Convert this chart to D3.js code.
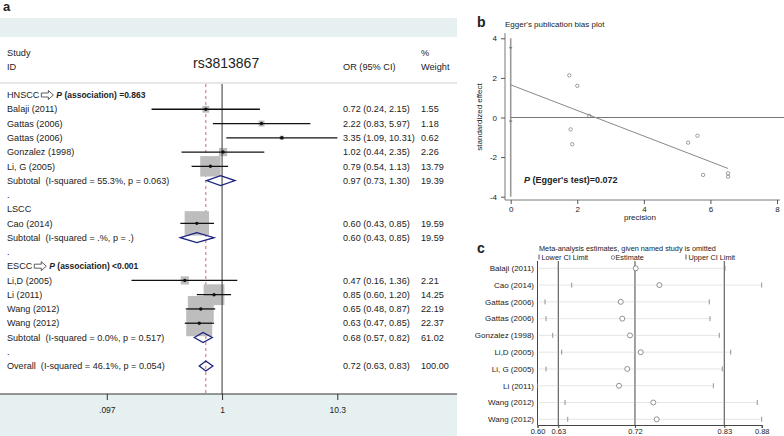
<!DOCTYPE html>
<html><head><meta charset="utf-8">
<script src="https://cdn.jsdelivr.net/npm/d3@7"></script>
<style>
body{margin:0;background:#fff;}
svg{display:block;}
text{font-family:"Liberation Sans Narrow","Arial Narrow","Liberation Sans",Arial,sans-serif;fill:#222;white-space:pre;}
.wide{font-family:"Liberation Sans",Arial,sans-serif;}
</style></head><body>
<svg id="chart" width="784" height="436"></svg>
<script>
// ---------- Panel a: forest plot data ----------
const forestLabels = ["HNSCC","Balaji (2011)","Gattas (2006)","Gattas (2006)","Gonzalez (1998)","Li, G (2005)",
  "Subtotal  (I-squared = 55.3%, p = 0.063)",".","LSCC","Cao (2014)","Subtotal  (I-squared = .%, p = .)",".",
  "ESCC","Li,D (2005)","Li (2011)","Wang (2012)","Wang (2012)","Subtotal  (I-squared = 0.0%, p = 0.517)",".",
  "Overall  (I-squared = 46.1%, p = 0.054)"];
const forestTypes = ["group","study","study","study","study","study","subtotal","gap","group","study","subtotal","gap",
  "group","study","study","study","study","subtotal","gap","overall"];
const forestOR    = [null,0.72,2.22,3.35,1.02,0.79,0.97,null,null,0.60,0.60,null,null,0.47,0.85,0.65,0.63,0.68,null,0.72];
const forestLow   = [null,0.24,0.83,1.09,0.44,0.54,0.73,null,null,0.43,0.43,null,null,0.16,0.60,0.48,0.47,0.57,null,0.63];
const forestHigh  = [null,2.15,5.97,10.31,2.35,1.13,1.30,null,null,0.85,0.85,null,null,1.36,1.20,0.87,0.85,0.82,null,0.83];
const forestWeight= [null,1.55,1.18,0.62,2.26,13.79,19.39,null,null,19.59,19.59,null,null,2.21,14.25,22.19,22.37,61.02,null,100.00];
const groupNotes  = {"HNSCC":"=0.863","ESCC":"<0.001"};
const forestTicks = [0.097, 1, 10.3];
const forestTickLabels = [".097","1","10.3"];
const overallOR = 0.72;

// ---------- Panel b: Egger's plot data ----------
const eggerPrecision = [1.76, 2.00, 2.36, 1.80, 1.85, 5.33, 5.61, 5.78, 6.53, 6.53];
const eggerEffect    = [2.13, 1.60, 0.08, -0.60, -1.35, -1.27, -0.92, -2.90, -2.82, -2.99];
const eggerIntercept = 1.65, eggerSlope = -0.647;
const eggerInterceptCI = [-0.18, 3.52];
const eggerXTicks = [0,2,4,6,8];
const eggerYTicks = [-4,-2,0,2,4];

// ---------- Panel c: leave-one-out data ----------
const infStudies = ["Balaji (2011)","Cao (2014)","Gattas (2006)","Gattas (2006)","Gonzalez (1998)","Li,D (2005)",
  "Li, G (2005)","Li (2011)","Wang (2012)","Wang (2012)"];
const infEstimate = [0.7234,0.7519,0.7053,0.7072,0.7165,0.7294,0.7132,0.7032,0.7446,0.7487];
const infLower    = [0.6299,0.6461,0.6139,0.6151,0.6232,0.6340,0.6151,0.6048,0.6380,0.6413];
const infUpper    = [0.8312,0.8755,0.8122,0.8131,0.8243,0.8381,0.8279,0.8171,0.8702,0.8755];
const infTickValues = [0.6048,0.6299,0.7225,0.8303,0.8755];
const infTickLabels = ["0.60","0.63","0.72","0.83","0.88"];
const infRefLines = [0.6299,0.7225,0.8303];

const svg = d3.select("#chart");
const f2 = d3.format(".2f");

// ================= Panel a =================
const A = svg.append("g");
const bandColor = "#e7f0f0";
A.append("rect").attr("x",0).attr("y",18).attr("width",457).attr("height",19).attr("fill",bandColor);
A.append("rect").attr("x",0).attr("y",394).attr("width",457).attr("height",42).attr("fill",bandColor);
A.append("text").attr("class","wide").attr("x",3).attr("y",11).attr("font-size",13).attr("font-weight","bold").text("a");

A.append("line").attr("x1",0).attr("x2",457).attr("y1",83).attr("y2",83).attr("stroke","#cfcfcf").attr("stroke-width",1);
A.append("line").attr("x1",0).attr("x2",457).attr("y1",394).attr("y2",394).attr("stroke","#333").attr("stroke-width",1);

const hf = 9.2;
A.append("text").attr("x",7).attr("y",56).attr("font-size",hf).text("Study");
A.append("text").attr("x",7).attr("y",70).attr("font-size",hf).text("ID");
A.append("text").attr("class","wide").attr("x",193).attr("y",68).attr("font-size",14).text("rs3813867");
A.append("text").attr("x",343).attr("y",70).attr("font-size",hf).text("OR (95% CI)");
A.append("text").attr("x",421).attr("y",56).attr("font-size",hf).text("%");
A.append("text").attr("x",421).attr("y",70).attr("font-size",hf).text("Weight");

const xF = d3.scaleLog().domain([0.097,10.3]).range([106.8,337.3]);
const yF = d3.scaleLinear().domain([0,19]).range([95,366]);
const boxSize = d3.scaleSqrt().domain([0,25]).range([0,27.5]);

// red dashed overall line
A.append("line").attr("x1",xF(overallOR)).attr("x2",xF(overallOR)).attr("y1",84).attr("y2",394)
  .attr("stroke","#c86a6a").attr("stroke-width",1).attr("stroke-dasharray","3,3");

const rows = forestLabels.map((l,i)=>({label:l,type:forestTypes[i],or:forestOR[i],lo:forestLow[i],hi:forestHigh[i],w:forestWeight[i],i}));
const studies = rows.filter(r=>r.type==="study");

// boxes
A.selectAll(".box").data(studies).join("rect")
  .attr("x",d=>xF(d.or)-boxSize(d.w)/2).attr("y",d=>yF(d.i)-boxSize(d.w)/2)
  .attr("width",d=>boxSize(d.w)).attr("height",d=>boxSize(d.w)).attr("fill","#bdbdbd");

// null line
A.append("line").attr("x1",xF(1)).attr("x2",xF(1)).attr("y1",84).attr("y2",394).attr("stroke","#333").attr("stroke-width",1);

// CIs
A.selectAll(".ci").data(studies).join("line")
  .attr("x1",d=>xF(d.lo)).attr("x2",d=>xF(d.hi)).attr("y1",d=>yF(d.i)).attr("y2",d=>yF(d.i))
  .attr("stroke","#111").attr("stroke-width",1.3);
A.selectAll(".pt").data(studies).join("circle")
  .attr("cx",d=>xF(d.or)).attr("cy",d=>yF(d.i)).attr("r",1.7).attr("fill","#111");

// diamonds
const dia = rows.filter(r=>r.type==="subtotal"||r.type==="overall");
A.selectAll(".dia").data(dia).join("path")
  .attr("d",d=>{const y=yF(d.i),h=5;return `M${xF(d.lo)},${y}L${xF(d.or)},${y-h}L${xF(d.hi)},${y}L${xF(d.or)},${y+h}Z`;})
  .attr("fill","none").attr("stroke","#1a237e").attr("stroke-width",1.3);

// row texts
const tf = 9.1;
rows.forEach(r=>{
  const y = yF(r.i);
  const t = A.append("text").attr("x",7).attr("y",y).attr("dy","0.35em").attr("font-size",tf).text(r.label);
  if(r.type==="group" && groupNotes[r.label]){
    const wlab = t.node().getComputedTextLength();
    const ax = 7 + wlab + 2;
    A.append("path").attr("d",`M${ax},${y-2}L${ax+7},${y-2}L${ax+7},${y-4.5}L${ax+12},${y}L${ax+7},${y+4.5}L${ax+7},${y+2}L${ax},${y+2}Z`)
      .attr("fill","#fff").attr("stroke","#333").attr("stroke-width",0.8);
    const p = A.append("text").attr("class","wide").attr("x",ax+15).attr("y",y).attr("dy","0.35em")
      .attr("font-size",8.5).attr("font-weight","bold");
    p.append("tspan").attr("font-style","italic").text("P");
    p.append("tspan").text(" (association) "+groupNotes[r.label]);
  }
  if(r.or!==null){
    A.append("text").attr("x",343).attr("y",y).attr("dy","0.35em").attr("font-size",tf)
      .text(`${f2(r.or)} (${f2(r.lo)}, ${f2(r.hi)})`);
    A.append("text").attr("x",421).attr("y",y).attr("dy","0.35em").attr("font-size",tf).text(f2(r.w));
  }
});

// axis
const axA = A.append("g").attr("transform","translate(0,394)")
  .call(d3.axisBottom(xF).tickValues(forestTicks).tickFormat((d,i)=>forestTickLabels[i]).tickSize(6));
axA.select(".domain").remove();
axA.selectAll("line").attr("stroke","#333");
axA.selectAll("text").attr("font-size",8.5).attr("fill","#222").attr("dy","1.2em").style("font-family",null);

// ================= Panel b =================
const B = svg.append("g");
B.append("text").attr("class","wide").attr("x",477).attr("y",27).attr("font-size",14).attr("font-weight","bold").text("b");
B.append("text").attr("x",505).attr("y",27).attr("font-size",8).text("Egger's publication bias plot");
const xB = d3.scaleLinear().domain([0,8]).range([510.7,777]);
const yB = d3.scaleLinear().domain([-4,4]).range([196.7,38.3]);
const axLeftB = B.append("g").attr("transform","translate(505,0)")
  .call(d3.axisLeft(yB).tickValues(eggerYTicks).tickSize(4).tickPadding(4));
axLeftB.select(".domain").remove();
axLeftB.selectAll("line").attr("stroke","#555");
axLeftB.selectAll("text").attr("font-size",8).attr("fill","#222").style("font-family",null).text(d=>d<0?"-"+Math.abs(d):d);
const axBotB = B.append("g").attr("transform","translate(0,200)")
  .call(d3.axisBottom(xB).tickValues(eggerXTicks).tickSize(4).tickPadding(2));
axBotB.select(".domain").remove();
axBotB.selectAll("line").attr("stroke","#555");
axBotB.selectAll("text").attr("font-size",8).attr("fill","#222").style("font-family",null);
B.append("line").attr("x1",505).attr("x2",505).attr("y1",33).attr("y2",200).attr("stroke","#555").attr("stroke-width",0.8);
B.append("line").attr("x1",505).attr("x2",780).attr("y1",200).attr("y2",200).attr("stroke","#555").attr("stroke-width",0.8);
B.append("text").attr("x",640).attr("y",220).attr("text-anchor","middle").attr("font-size",8).text("precision");
B.append("text").attr("transform","translate(482,117) rotate(-90)").attr("text-anchor","middle").attr("font-size",8).text("standardized effect");

// intercept line at precision 0
B.append("line").attr("x1",xB(0)).attr("x2",xB(0)).attr("y1",yB(4)).attr("y2",yB(-4)).attr("stroke","#999").attr("stroke-width",1.6);
eggerInterceptCI.forEach(v=>{
  B.append("line").attr("x1",xB(0)-1.5).attr("x2",xB(0)+1.5).attr("y1",yB(v)).attr("y2",yB(v)).attr("stroke","#666").attr("stroke-width",1);
});
// zero line
B.append("line").attr("x1",xB(0)).attr("x2",784).attr("y1",yB(0)).attr("y2",yB(0)).attr("stroke","#777").attr("stroke-width",1);
// regression line
const maxP = d3.max(eggerPrecision);
B.append("line").attr("x1",xB(0)).attr("y1",yB(eggerIntercept)).attr("x2",xB(maxP)).attr("y2",yB(eggerIntercept+eggerSlope*maxP))
  .attr("stroke","#888").attr("stroke-width",1);
B.selectAll(".ep").data(eggerPrecision).join("circle")
  .attr("cx",d=>xB(d)).attr("cy",(d,i)=>yB(eggerEffect[i])).attr("r",1.7)
  .attr("fill","none").attr("stroke","#777").attr("stroke-width",0.7);
const pt = B.append("text").attr("class","wide").attr("x",524).attr("y",183).attr("font-size",9).attr("font-weight","bold");
pt.append("tspan").attr("font-style","italic").text("P");
pt.append("tspan").text(" (Egger's test)=0.072");

// ================= Panel c =================
const C = svg.append("g");
C.append("text").attr("class","wide").attr("x",477).attr("y",253).attr("font-size",14).attr("font-weight","bold").text("c");
C.append("text").attr("x",539).attr("y",251).attr("font-size",7.3).text("Meta-analysis estimates, given named study is omitted");
const xC = d3.scaleLinear().domain([0.6048,0.8755]).range([537.5,761.7]);
const yC = d3.scaleLinear().domain([0,9]).range([268.3,419.3]);
const legY = 257.5;
C.append("line").attr("x1",539).attr("x2",539).attr("y1",legY-3).attr("y2",legY+2).attr("stroke","#555");
C.append("text").attr("x",541.5).attr("y",legY).attr("dy","0.35em").attr("font-size",7.3).text("Lower CI Limit");
C.append("circle").attr("cx",613).attr("cy",legY).attr("r",1.8).attr("fill","none").attr("stroke","#555").attr("stroke-width",0.7);
C.append("text").attr("x",615.5).attr("y",legY).attr("dy","0.35em").attr("font-size",7.3).text("Estimate");
C.append("line").attr("x1",686).attr("x2",686).attr("y1",legY-3).attr("y2",legY+2).attr("stroke","#555");
C.append("text").attr("x",688.5).attr("y",legY).attr("dy","0.35em").attr("font-size",7.3).text("Upper CI Limit");

// axes
C.append("line").attr("x1",537.5).attr("x2",537.5).attr("y1",261).attr("y2",425).attr("stroke","#444");
infRefLines.forEach(v=>{
  C.append("line").attr("x1",xC(v)).attr("x2",xC(v)).attr("y1",261).attr("y2",425).attr("stroke","#444").attr("stroke-width",1);
});
const axC = C.append("g").attr("transform","translate(0,425)")
  .call(d3.axisBottom(xC).tickValues(infTickValues).tickFormat((d,i)=>infTickLabels[i]).tickSize(3).tickPadding(1));
axC.select(".domain").attr("stroke","#444");
axC.selectAll("line").attr("stroke","#444");
axC.selectAll("text").attr("font-size",7.5).attr("fill","#222").style("font-family",null);

infStudies.forEach((s,i)=>{
  const y = yC(i);
  C.append("line").attr("x1",537.5).attr("x2",xC(infUpper[i])).attr("y1",y).attr("y2",y)
    .attr("stroke","#b5b5b5").attr("stroke-width",0.7).attr("stroke-dasharray","1,1");
  [infLower[i],infUpper[i]].forEach(v=>{
    C.append("line").attr("x1",xC(v)).attr("x2",xC(v)).attr("y1",y-2.5).attr("y2",y+2.5).attr("stroke","#777").attr("stroke-width",0.8);
  });
  C.append("circle").attr("cx",xC(infEstimate[i])).attr("cy",y).attr("r",2.5).attr("fill","#fff").attr("stroke","#666").attr("stroke-width",0.7);
  C.append("text").attr("x",534).attr("y",y).attr("dy","0.35em").attr("text-anchor","end").attr("font-size",8).text(s);
});
</script></body></html>
